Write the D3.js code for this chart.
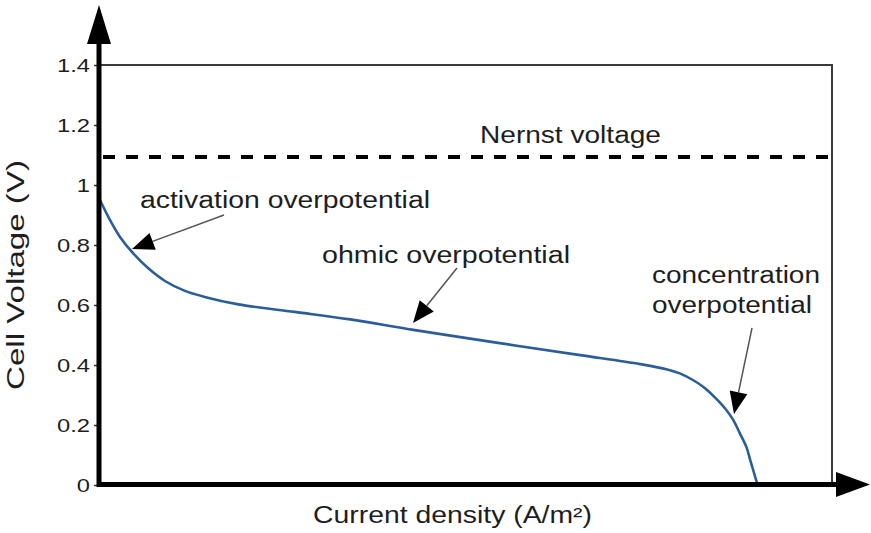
<!DOCTYPE html>
<html><head><meta charset="utf-8">
<script src="https://cdn.jsdelivr.net/npm/d3@7"></script>
<style>body{margin:0;background:#fff} text{font-family:"Liberation Sans",Arial,sans-serif;fill:#1e1e1e}</style></head>
<body><svg id="c" width="871" height="533"></svg>
<script>
// Current density (normalised, arbitrary units) and cell voltage (V)
const currentDensity = [0.000, 0.0137, 0.0273, 0.0451, 0.0656, 0.0887, 0.116, 0.143, 0.189, 0.266, 0.342, 0.428, 0.546, 0.656, 0.738, 0.775, 0.792, 0.810, 0.827, 0.840, 0.854, 0.865, 0.874, 0.883, 0.889, 0.898];
const cellVoltage    = [0.950, 0.883, 0.827, 0.773, 0.723, 0.680, 0.647, 0.627, 0.602, 0.577, 0.552, 0.517, 0.473, 0.433, 0.403, 0.385, 0.372, 0.350, 0.322, 0.292, 0.255, 0.217, 0.173, 0.127, 0.077, 0.003];
const yTicks = [0, 0.2, 0.4, 0.6, 0.8, 1, 1.2, 1.4];
const yTickLabels = ["0", "0.2", "0.4", "0.6", "0.8", "1", "1.2", "1.4"];
const nernstVoltage = 1.093;
const nernstLabel = "Nernst voltage";
const annotationLabels = ["activation overpotential", "ohmic overpotential", "concentration", "overpotential"];
const xTitle = "Current density (A/m²)";
const yTitle = "Cell Voltage (V)";

const svg = d3.select("#c");
const x = d3.scaleLinear().domain([0, 1]).range([100, 832]);
const y = d3.scaleLinear().domain([0, 1.4]).range([485, 65]);

// plot frame (top and right)
svg.append("path").attr("d", `M${x(0)},${y(1.4)}H${x(1)}V${y(0)}`)
  .attr("fill", "none").attr("stroke", "#3a3a3a").attr("stroke-width", 2);

// Nernst dashed line
svg.append("line").attr("x1", x(0) + 3).attr("x2", x(1)).attr("y1", y(nernstVoltage)).attr("y2", y(nernstVoltage))
  .attr("stroke", "#000").attr("stroke-width", 4).attr("stroke-dasharray", "12,11");

// y axis ticks and labels
const yAxis = d3.axisLeft(y).tickValues(yTicks).tickFormat((d, i) => yTickLabels[i]).tickSize(4).tickPadding(6);
const ga = svg.append("g").attr("transform", `translate(${x(0) - 2},0)`).call(yAxis);
ga.select(".domain").remove();
ga.selectAll(".tick line").attr("stroke", "#333").attr("stroke-width", 1.5);
ga.selectAll(".tick text").attr("font-size", 19).attr("font-family", "Liberation Sans, Arial, sans-serif")
  .attr("fill", "#222").attr("transform", "scale(1.25,1)").attr("x", -8 / 1.25);

// curve
const pts = currentDensity.map((c, i) => [c, cellVoltage[i]]);
svg.append("path").datum(pts)
  .attr("d", d3.line().x(d => x(d[0])).y(d => y(d[1])).curve(d3.curveCatmullRom.alpha(0.5)))
  .attr("fill", "none").attr("stroke", "#2c5d9b").attr("stroke-width", 2.6);

// thick axes with arrowheads
svg.append("line").attr("x1", 99).attr("x2", 99).attr("y1", 487).attr("y2", 40).attr("stroke", "#000").attr("stroke-width", 5);
svg.append("path").attr("d", "M99,5L111,44L87,44Z").attr("fill", "#000");
svg.append("line").attr("x1", 97).attr("x2", 840).attr("y1", 484.5).attr("y2", 484.5).attr("stroke", "#000").attr("stroke-width", 5);
svg.append("path").attr("d", "M870,484.5L836,472L836,497Z").attr("fill", "#000");

// annotation arrows
function arrow(x1, y1, x2, y2) {
  const ang = Math.atan2(y2 - y1, x2 - x1), L = 22, W = 9;
  const bx = x2 - L * Math.cos(ang), by = y2 - L * Math.sin(ang);
  svg.append("line").attr("x1", x1).attr("y1", y1).attr("x2", bx).attr("y2", by)
    .attr("stroke", "#555").attr("stroke-width", 1.5);
  const px = -Math.sin(ang) * W, py = Math.cos(ang) * W;
  svg.append("path").attr("d", `M${x2},${y2}L${bx + px},${by + py}L${bx - px},${by - py}Z`).attr("fill", "#000");
}
arrow(224, 215, 132, 249);
arrow(457, 268, 413, 323);
arrow(752, 328, 734, 414);

// texts
function label(t, xx, yy, w, size) {
  svg.append("text").attr("x", xx).attr("y", yy).attr("font-size", size)
    .attr("textLength", w).attr("lengthAdjust", "spacingAndGlyphs").text(t);
}
label(nernstLabel, 480, 143, 181, 23);
label(annotationLabels[0], 140, 208, 290, 23);
label(annotationLabels[1], 322, 263, 248, 23);
label(annotationLabels[2], 652, 283, 168, 23);
label(annotationLabels[3], 652, 313, 160, 23);
label(xTitle, 313, 523, 279, 23);
svg.append("text").attr("transform", "translate(24,275) rotate(-90)").attr("text-anchor", "middle")
  .attr("font-size", 23).attr("textLength", 230).attr("lengthAdjust", "spacingAndGlyphs").text(yTitle);
</script></body></html>
